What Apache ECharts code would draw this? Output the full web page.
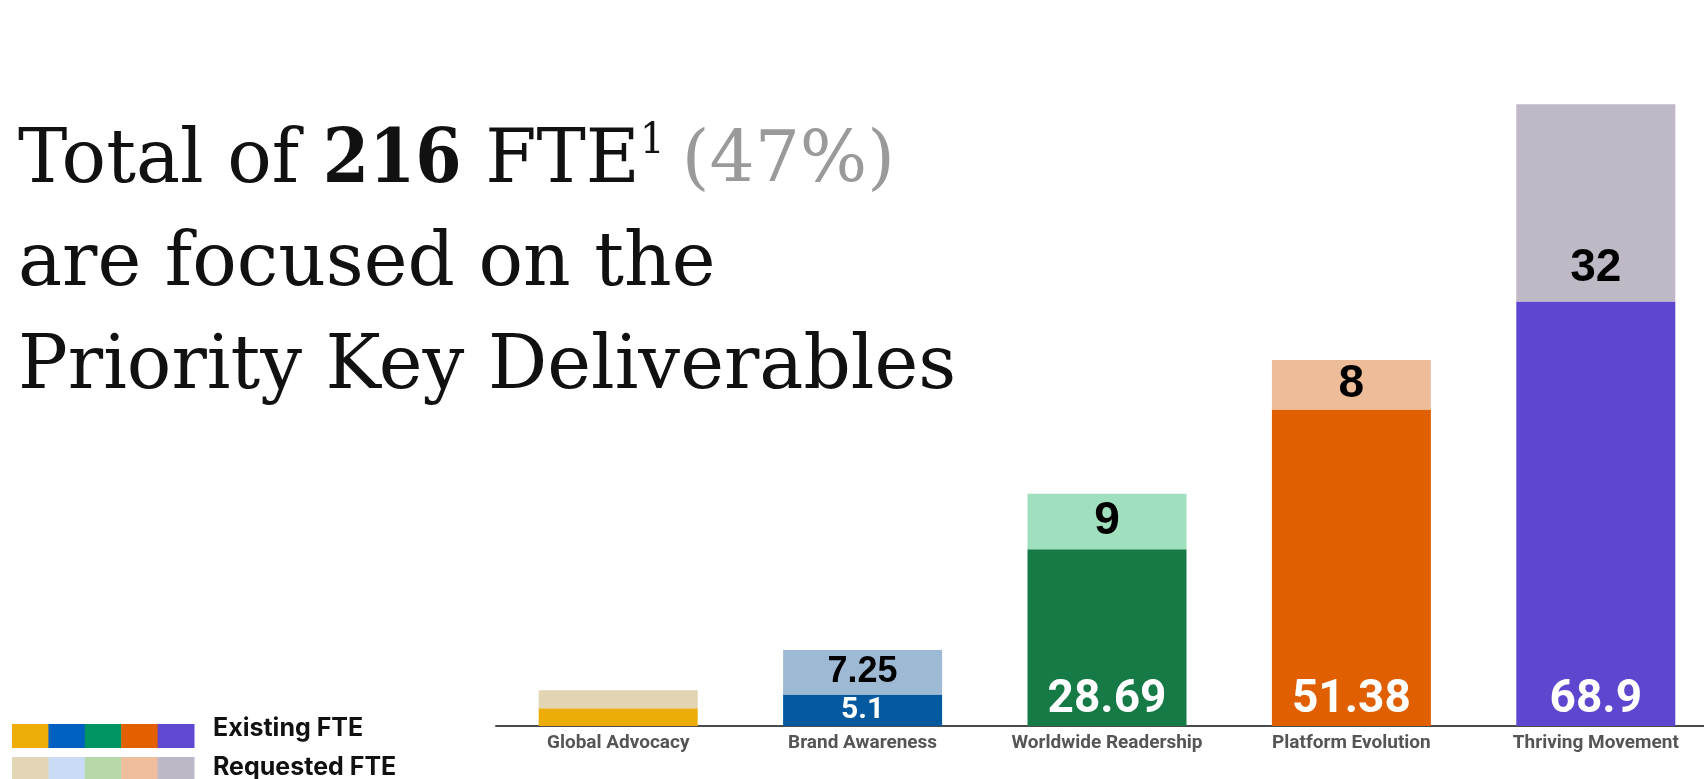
<!DOCTYPE html>
<html>
<head>
<meta charset="utf-8">
<script src="https://cdn.jsdelivr.net/npm/echarts@6/dist/echarts.min.js"></script>
<style>
  html, body { margin: 0; padding: 0; background: #ffffff; overflow: hidden; }
  #chart { width: 1720px; height: 779px; }
</style>
</head>
<body>
<div id="chart"></div>
<script>
// Deliverable categories and FTE counts
const categories = ['Global Advocacy', 'Brand Awareness', 'Worldwide Readership', 'Platform Evolution', 'Thriving Movement'];
const existingFte = [2.9, 5.1, 28.69, 51.38, 68.9];
const requestedFte = [2.9, 7.25, 9, 8, 32];
// Which bars carry a value label
const showValue = [false, true, true, true, true];

// Palettes
const existingColors = ['#EDAD08', '#04599F', '#157A45', '#E05F00', '#5F46CF'];
const requestedColors = ['#E2D5B4', '#9DB9D3', '#A0E0BE', '#EDBD9A', '#BEB9C5'];
const legendExisting = ['#EEAD08', '#0061C0', '#009562', '#E35F00', '#6148D0'];
const legendRequested = ['#E2D6B6', '#CADBF6', '#B6D8A9', '#EEBE9C', '#BCB8C5'];
const legendNames = ['Existing FTE', 'Requested FTE'];

const chart = echarts.init(document.getElementById('chart'), null, { renderer: 'canvas' });

// existing segment labels: white, near the bottom of tall bars
const existingData = existingFte.map((v, i) => {
  const big = v > 20;
  return {
    value: v,
    itemStyle: { color: existingColors[i] },
    label: {
      show: showValue[i],
      position: big ? 'insideBottom' : 'inside',
      distance: big ? 3 : 5,
      color: '#ffffff',
      fontFamily: 'Roboto',
      fontWeight: 'bold',
      fontSize: big ? 46 : 30
    }
  };
});

// requested segment labels: black
const requestedData = requestedFte.map((v, i) => {
  const last = i === requestedFte.length - 1;
  return {
    value: v,
    itemStyle: { color: requestedColors[i] },
    label: {
      show: showValue[i],
      position: last ? 'insideBottom' : 'inside',
      distance: last ? 10 : 5,
      color: '#000000',
      fontFamily: 'Liberation Sans',
      fontWeight: 'bold',
      fontSize: i === 1 ? 36 : 46
    }
  };
});

// legend built from colour strips and captions
const legendGraphics = [];
const swW = 36.4;
[legendExisting, legendRequested].forEach((row, r) => {
  const y = r === 0 ? 724 : 757;
  const h = r === 0 ? 24 : 22;
  row.forEach((c, i) => {
    legendGraphics.push({
      type: 'rect',
      shape: { x: 12 + i * swW, y: y, width: swW + 0.5, height: h },
      style: { fill: c }
    });
  });
  legendGraphics.push({
    type: 'text',
    x: 213,
    y: r === 0 ? 728 : 767,
    style: {
      text: legendNames[r],
      fill: '#111111',
      font: 'bold 25px Inter',
      textVerticalAlign: 'middle'
    }
  });
});

const option = {
  backgroundColor: '#ffffff',
  animation: false,
  title: {
    left: 18,
    top: 111,
    padding: 0,
    text: 'Total of {b|216} FTE{sup|1 }{g|(47%)}\nare focused on the\nPriority Key Deliverables',
    textStyle: {
      fontFamily: 'DejaVu Serif',
      fontSize: 74,
      fontWeight: 'normal',
      color: '#111111',
      lineHeight: 103,
      rich: {
        b: { fontFamily: "'DejaVu Serif Condensed', 'DejaVu Serif'", fontSize: 74, fontWeight: 'bold', color: '#111111', lineHeight: 103 },
        sup: { fontFamily: "'DejaVu Serif Condensed', 'DejaVu Serif'", fontSize: 43, color: '#111111', lineHeight: 86, padding: [9, 5, 0, 0], verticalAlign: 'top' },
        g: { fontFamily: 'DejaVu Serif', fontSize: 71, color: '#9a9a9a', lineHeight: 103 }
      }
    }
  },
  grid: { left: 496, top: 5, width: 1222, height: 721 },
  xAxis: {
    type: 'category',
    data: categories,
    axisLine: { show: true, lineStyle: { color: '#4a4a4a', width: 2 } },
    axisTick: { show: false },
    axisLabel: {
      margin: 8,
      color: '#555555',
      fontFamily: 'Roboto',
      fontWeight: 'bold',
      fontSize: 19,
      interval: 0
    }
  },
  yAxis: {
    type: 'value',
    min: 0,
    max: 117,
    show: false,
    splitLine: { show: false }
  },
  series: [
    {
      name: 'Existing FTE',
      type: 'bar',
      stack: 'fte',
      barWidth: 159,
      data: existingData
    },
    {
      name: 'Requested FTE',
      type: 'bar',
      stack: 'fte',
      barWidth: 159,
      data: requestedData
    }
  ],
  graphic: legendGraphics
};

chart.setOption(option);
</script>
</body>
</html>
